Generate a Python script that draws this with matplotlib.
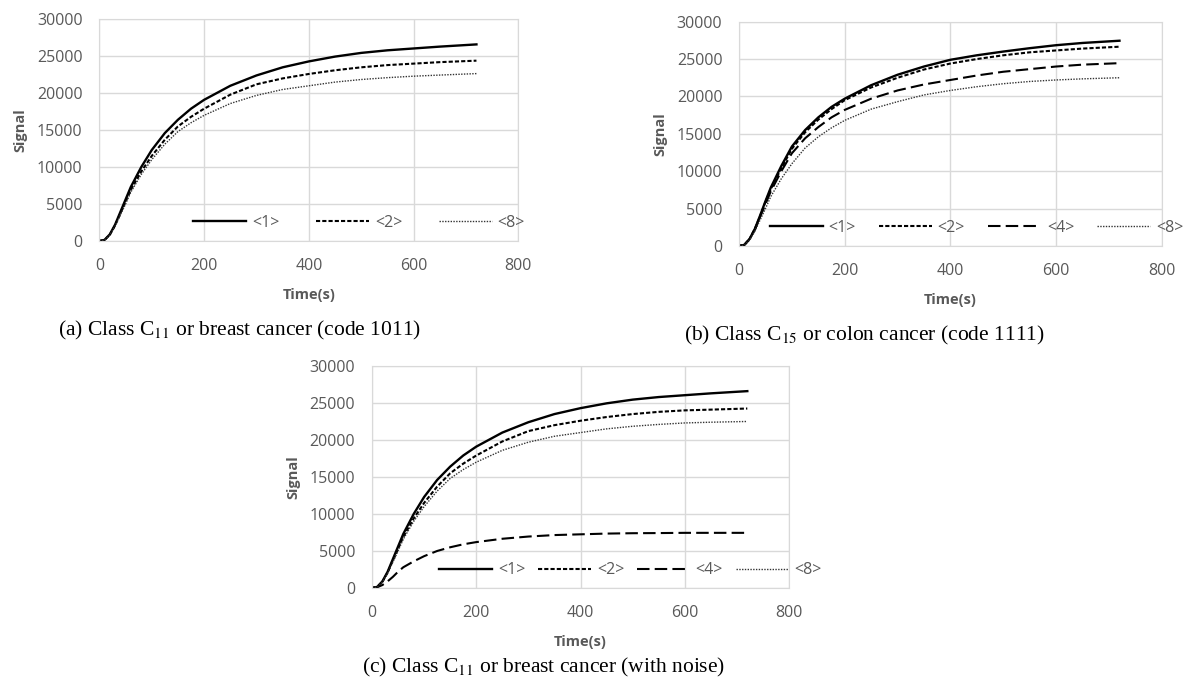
import numpy as np
import matplotlib.pyplot as plt

# time points (s)
t = [0, 10, 20, 30, 40, 50, 60, 80, 100, 125, 150, 175, 200, 250, 300, 350, 400, 450, 500, 550, 600, 650, 720]

# (a) breast cancer, code 1011
a_1 = [0, 150, 900, 2200, 3900, 5600, 7300, 10000, 12300, 14600, 16400, 17900, 19100, 21000, 22400, 23500, 24300, 24950, 25450, 25800, 26050, 26300, 26600]
a_2 = [0, 150, 850, 2100, 3700, 5300, 6900, 9400, 11500, 13700, 15500, 16800, 17900, 19800, 21200, 22000, 22600, 23100, 23500, 23800, 24000, 24200, 24400]
a_8 = [0, 140, 800, 2000, 3500, 5000, 6600, 9000, 11000, 13100, 14800, 16000, 17000, 18600, 19700, 20500, 21000, 21500, 21850, 22100, 22300, 22450, 22650]

# (b) colon cancer, code 1111
b_1 = [0, 150, 950, 2300, 4100, 6000, 7800, 10700, 13300, 15500, 17200, 18600, 19700, 21500, 22900, 24000, 24900, 25500, 26000, 26450, 26850, 27150, 27450]
b_2 = [0, 150, 950, 2300, 4000, 5900, 7600, 10400, 13000, 15200, 16900, 18300, 19500, 21200, 22500, 23600, 24400, 25000, 25500, 25900, 26150, 26400, 26650]
b_4 = [0, 150, 900, 2200, 3900, 5600, 7300, 10000, 12400, 14400, 15900, 17200, 18200, 19700, 20800, 21600, 22200, 22800, 23300, 23650, 24000, 24250, 24450]
b_8 = [0, 140, 800, 2000, 3500, 5000, 6600, 9000, 11000, 13100, 14600, 15800, 16800, 18300, 19300, 20200, 20800, 21300, 21700, 22000, 22200, 22350, 22500]

# (c) breast cancer with noise
c_1 = [0, 150, 900, 2200, 3900, 5600, 7300, 10000, 12300, 14600, 16400, 17900, 19100, 21000, 22400, 23500, 24300, 24950, 25450, 25800, 26050, 26300, 26600]
c_2 = [0, 150, 850, 2100, 3700, 5300, 6900, 9400, 11500, 13700, 15500, 16800, 17900, 19800, 21200, 22000, 22600, 23100, 23500, 23800, 24000, 24100, 24250]
c_4 = [0, 100, 400, 900, 1500, 2200, 2800, 3600, 4300, 5000, 5500, 5900, 6200, 6650, 6950, 7150, 7250, 7350, 7400, 7420, 7450, 7450, 7450]
c_8 = [0, 140, 800, 2000, 3500, 5000, 6600, 9000, 11000, 13100, 14800, 16000, 17000, 18600, 19700, 20500, 21000, 21500, 21850, 22100, 22300, 22400, 22500]

gray = "#595959"
grid = "#d9d9d9"
styles = {
    "<1>": dict(color="black", lw=1.7, linestyle="-"),
    "<2>": dict(color="black", lw=1.5, linestyle=(0, (2, 1))),
    "<4>": dict(color="black", lw=1.5, linestyle=(0, (6, 2.5))),
    "<8>": dict(color="#333333", lw=1.0, linestyle=(0, (1, 1))),
}

plt.rcParams["font.family"] = ["Open Sans", "DejaVu Sans"]
plt.rcParams["mathtext.fontset"] = "stix"

fig = plt.figure(figsize=(11.84, 6.81), dpi=100)


def panel(rect, series, leg_pos, cs):
    ax = fig.add_axes(rect)
    for name, vals in series:
        ax.plot(t, vals, label=name, **styles[name])
    ax.set_xlim(0, 800)
    ax.set_ylim(0, 30000)
    ax.set_xticks([0, 200, 400, 600, 800])
    ax.set_yticks(range(0, 30001, 5000))
    ax.grid(True, color=grid, lw=1)
    ax.set_axisbelow(True)
    for s in ax.spines.values():
        s.set_color(grid)
    ax.tick_params(length=0, labelsize=11.5, labelcolor=gray, pad=12)
    ax.set_xlabel("Time(s)", fontsize=10.5, fontweight="bold", color=gray, labelpad=10)
    ax.set_ylabel("Signal", fontsize=10.5, fontweight="bold", color=gray, labelpad=7)
    leg = ax.legend(loc="center", bbox_to_anchor=leg_pos, ncol=len(series), frameon=False,
                    fontsize=11.5, handlelength=3.3, handletextpad=0.37, columnspacing=cs,
                    borderaxespad=0)
    for txt in leg.get_texts():
        txt.set_color(gray)
    return ax


panel([0.0839, 0.6461, 0.3539, 0.3256],
      [("<1>", a_1), ("<2>", a_2), ("<8>", a_8)], (0.62, 0.081), 2.3)
panel([0.6242, 0.6388, 0.3570, 0.3294],
      [("<1>", b_1), ("<2>", b_2), ("<4>", b_4), ("<8>", b_8)], (0.562, 0.08), 1.45)
panel([0.3142, 0.1366, 0.3522, 0.3260],
      [("<1>", c_1), ("<2>", c_2), ("<4>", c_4), ("<8>", c_8)], (0.62, 0.08), 0.8)

cap = dict(fontsize=15.5, family=["Liberation Serif", "DejaVu Serif"], color="black",
           ha="center", va="center")
fig.text(0.2027, 0.514, "(a) Class C$_{11}$ or breast cancer (code 1011)", **cap)
fig.text(0.7302, 0.508, "(b) Class C$_{15}$ or colon cancer (code 1111)", **cap)
fig.text(0.4595, 0.02, "(c) Class C$_{11}$ or breast cancer (with noise)", **cap)

fig.savefig("out.png", dpi=100)
